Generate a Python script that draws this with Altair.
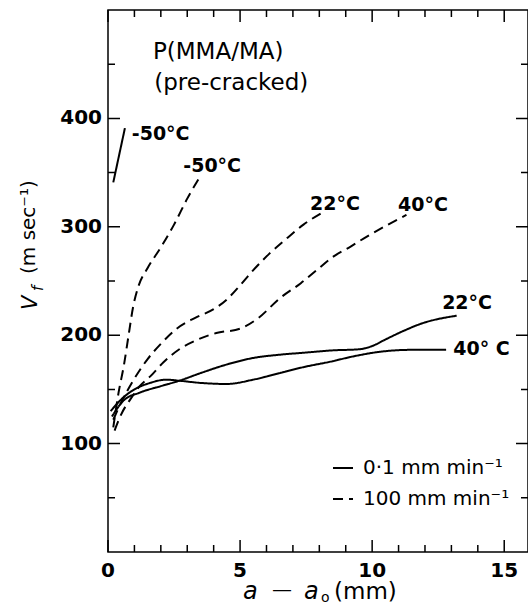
import altair as alt
import pandas as pd

SLOW = "0·1 mm min⁻¹"
FAST = "100 mm min⁻¹"

# ---- data (x = a - a0 in mm, y = Vf in m/s) ----
m50_slow_x = [0.2, 0.42, 0.64]
m50_slow_y = [341, 366, 391]

m50_fast_x = [0.2, 0.4, 0.6, 0.78, 0.95, 1.15, 1.5, 2.0, 2.5, 3.0, 3.5]
m50_fast_y = [115, 147, 172, 200, 226, 245, 262, 281, 302, 326, 347]

t22_fast_x = [0.2, 0.5, 1.0, 1.5, 2.0, 2.6, 3.3, 4.0, 4.5, 5.0, 5.5, 6.1, 6.8, 7.4, 8.1]
t22_fast_y = [122, 138, 160, 178, 192, 206, 216, 224, 233, 246, 260, 275, 290, 302, 313]

t40_fast_x = [0.25, 0.5, 0.85, 1.2, 1.6, 2.1, 2.7, 3.4, 4.1, 5.0, 5.7, 6.5, 7.3, 7.9, 8.5, 9.2, 9.8, 10.6, 11.3]
t40_fast_y = [112, 127, 141, 153, 162, 175, 187, 196, 202, 206, 216, 234, 248, 260, 272, 282, 291, 302, 311]

t22_slow_x = [0.15, 0.6, 1.2, 2.0, 2.7, 3.5, 4.5, 5.5, 6.5, 7.5, 8.5, 9.5, 10.0, 10.5, 11.1, 11.9, 13.2]
t22_slow_y = [125, 140, 147, 153, 158, 165, 173, 179, 182, 184, 186, 187, 190, 196, 203, 211, 218]

t40_slow_x = [0.1, 0.6, 1.0, 1.6, 2.2, 2.7, 3.5, 4.5, 5.5, 6.5, 7.3, 8.5, 9.2, 10.4, 11.5, 12.8]
t40_slow_y = [130, 143, 150, 156, 159, 158, 156, 155, 159, 165, 170, 176, 180, 185, 186.5, 186.5]

series = [
    ("-50 slow", SLOW, m50_slow_x, m50_slow_y),
    ("-50 fast", FAST, m50_fast_x, m50_fast_y),
    ("22 fast", FAST, t22_fast_x, t22_fast_y),
    ("40 fast", FAST, t40_fast_x, t40_fast_y),
    ("22 slow", SLOW, t22_slow_x, t22_slow_y),
    ("40 slow", SLOW, t40_slow_x, t40_slow_y),
]

label_text = ["-50°C", "-50°C", "22°C", "40°C", "22°C", "40° C"]
label_x = [0.9, 2.85, 7.65, 10.98, 12.65, 13.07]
label_y = [386, 356, 321, 320, 230, 187]

title_text = ["P(MMA/MA)", "(pre-cracked)"]
title_x = [1.7, 1.75]
title_y = [461, 433]

x_major = [0, 5, 10, 15]
x_minor = [1, 2, 3, 4, 6, 7, 8, 9, 11, 12, 13, 14]
y_major = [100, 200, 300, 400]
y_minor = [50, 150, 250, 350, 450]
x_tick_labels = ["0", "5", "10", "15"]
y_tick_labels = ["100", "200", "300", "400"]

XMAX, YMAX = 15.9, 500
W, H = 420, 542
FONT = "DejaVu Sans"
MAJ, MIN = 12, 7  # inward tick lengths in pixels

rows = []
for name, rate, xs_, ys_ in series:
    for i, (xv, yv) in enumerate(zip(xs_, ys_)):
        rows.append({"series": name, "rate": rate, "x": xv, "y": yv, "order": i, "w": "curve"})

# inward ticks on all four sides as two-point solid segments (pixel lengths -> data units)
px_x = XMAX / W
px_y = YMAX / H
segs = []
for vals, ln in ((x_major, MAJ), (x_minor, MIN)):
    for v in vals:
        segs.append(((v, 0), (v, ln * px_y)))
        segs.append(((v, YMAX), (v, YMAX - ln * px_y)))
for vals, ln in ((y_major, MAJ), (y_minor, MIN)):
    for v in vals:
        segs.append(((0, v), (ln * px_x, v)))
        segs.append(((XMAX, v), (XMAX - ln * px_x, v)))
for k, (p0, p1) in enumerate(segs):
    for i, p in enumerate((p0, p1)):
        rows.append({"series": f"tick{k}", "rate": SLOW, "x": p[0], "y": p[1], "order": i, "w": "tick"})
df = pd.DataFrame(rows)

labels_df = pd.DataFrame({"t": label_text, "x": label_x, "y": label_y})
titles_df = pd.DataFrame({"t": title_text, "x": title_x, "y": title_y})

xsc = alt.Scale(domain=[0, XMAX], nice=False, zero=False)
ysc = alt.Scale(domain=[0, YMAX], nice=False, zero=False)

X = alt.X("x:Q", scale=xsc, axis=None)
Y = alt.Y("y:Q", scale=ysc, axis=None)

lines = alt.Chart(df).mark_line(color="black", interpolate="monotone").encode(
    x=X, y=Y,
    detail="series:N",
    order="order:Q",
    strokeWidth=alt.StrokeWidth("w:N", scale=alt.Scale(domain=["curve", "tick"], range=[2, 1.5]), legend=None),
    strokeDash=alt.StrokeDash("rate:N", scale=alt.Scale(domain=[SLOW, FAST], range=[[1, 0], [10, 6]]),
                              legend=alt.Legend(orient="none", legendX=224, legendY=447, title=None,
                                                symbolType="stroke", symbolSize=400, symbolStrokeWidth=2,
                                                symbolStrokeColor="black", labelFont=FONT, labelFontSize=20,
                                                labelColor="black", labelOffset=9, rowPadding=10, padding=0)),
)

# tick labels placed through the scales
xlab = alt.Chart(pd.DataFrame({"v": x_major, "t": x_tick_labels})).mark_text(
    align="center", baseline="middle", font=FONT, fontSize=20, fontWeight="bold", color="black"
).encode(x=alt.X("v:Q", scale=xsc, axis=None), y=alt.value(H + 19), text="t:N")

ylab = alt.Chart(pd.DataFrame({"v": y_major, "t": y_tick_labels})).mark_text(
    align="right", baseline="middle", font=FONT, fontSize=20, fontWeight="bold", color="black"
).encode(y=alt.Y("v:Q", scale=ysc, axis=None), x=alt.value(-6), text="t:N")


def piece(s, px, py, size, style="normal", angle=0):
    kw = dict(align="left", baseline="alphabetic", font=FONT, fontSize=size,
              fontStyle=style, color="black")
    if angle:
        kw["angle"] = angle
    return alt.Chart(pd.DataFrame({"t": [s]})).mark_text(**kw).encode(
        x=alt.value(px), y=alt.value(py), text="t:N")


# axis titles:  a − a₀ (mm)   and   V_f (m sec⁻¹)
x_title = [
    piece("a", 135, 589, 24, "italic"),
    piece("—", 164, 586, 20),
    piece("a", 196, 589, 24, "italic"),
    piece("o", 213, 592, 14),
    piece("(mm)", 226, 589, 23),
]
y_title = [
    piece("V", -71, 300, 21, "italic", 270),
    piece("f", -65, 281, 15, "italic", 270),
    piece("(m sec⁻¹)", -73, 264, 20, "normal", 270),
]

curve_labels = alt.Chart(labels_df).mark_text(
    align="left", baseline="middle", font=FONT, fontSize=19, fontWeight="bold", color="black"
).encode(x=X, y=Y, text="t:N")

title_labels = alt.Chart(titles_df).mark_text(
    align="left", baseline="middle", font=FONT, fontSize=23, color="black"
).encode(x=X, y=Y, text="t:N")

chart = alt.layer(lines, xlab, ylab, *x_title, *y_title, curve_labels, title_labels).properties(
    width=W, height=H,
    autosize=alt.AutoSizeParams(type="none"),
    padding={"left": 108, "top": 10, "right": 0, "bottom": 55},
    background="white",
).configure_view(stroke="black", strokeWidth=1.5)

chart.save("out.html", embed_options={"renderer": "svg", "actions": False})
